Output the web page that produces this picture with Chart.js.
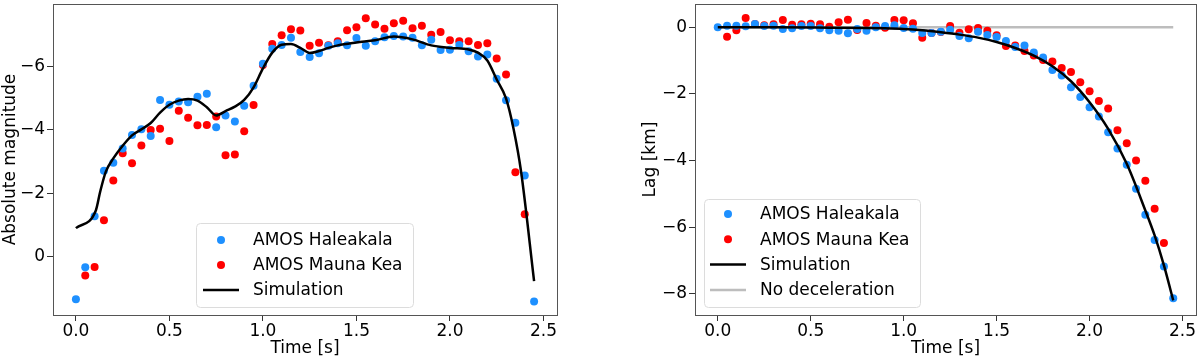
<!DOCTYPE html>
<html>
<head>
<meta charset="utf-8">
<script src="https://cdn.jsdelivr.net/npm/chart.js@4.4.1/dist/chart.umd.min.js"></script>
<style>
    html, body { margin: 0; padding: 0; background: #fff; }
    .panel { position: absolute; top: 0; width: 600px; height: 359px; }
    #leftPanel { left: 0; }
    #rightPanel { left: 600px; }
</style>
</head>
<body>
<div class="panel" id="leftPanel"><canvas id="magChart" width="600" height="359"></canvas></div>
<div class="panel" id="rightPanel"><canvas id="lagChart" width="600" height="359"></canvas></div>
<script>
// 观测时间 (s)
const timeHal = [0.00, 0.05, 0.10, 0.15, 0.20, 0.25, 0.30, 0.35, 0.40, 0.45,
    0.50, 0.55, 0.60, 0.65, 0.70, 0.75, 0.80, 0.85, 0.90, 0.95,
    1.00, 1.05, 1.10, 1.15, 1.20, 1.25, 1.30, 1.35, 1.40, 1.45,
    1.50, 1.55, 1.60, 1.65, 1.70, 1.75, 1.80, 1.85, 1.90, 1.95,
    2.00, 2.05, 2.10, 2.15, 2.20, 2.25, 2.30, 2.35, 2.40, 2.45];
const timeMK = [0.05, 0.10, 0.15, 0.20, 0.25, 0.30, 0.35, 0.40, 0.45,
    0.50, 0.55, 0.60, 0.65, 0.70, 0.75, 0.80, 0.85, 0.90, 0.95,
    1.00, 1.05, 1.10, 1.15, 1.20, 1.25, 1.30, 1.35, 1.40, 1.45,
    1.50, 1.55, 1.60, 1.65, 1.70, 1.75, 1.80, 1.85, 1.90, 1.95,
    2.00, 2.05, 2.10, 2.15, 2.20, 2.25, 2.30, 2.35, 2.40];

// 绝对星等
const magHal = [1.36, 0.35, -1.27, -2.71, -2.96, -3.41, -3.84, -4.02, -3.81, -4.95,
    -4.80, -4.90, -4.88, -5.05, -5.15, -4.09, -4.46, -4.27, -4.77, -5.40,
    -6.10, -6.57, -6.69, -6.92, -6.47, -6.31, -6.43, -6.67, -6.75, -6.68,
    -6.91, -6.67, -6.81, -6.94, -6.98, -6.96, -6.92, -6.68, -6.86, -6.53,
    -6.54, -6.69, -6.49, -6.33, -6.39, -5.62, -4.94, -4.23, -2.56, 1.43];
const magMK = [0.61, 0.34, -1.14, -2.40, -3.26, -2.95, -3.51, -4.00, -4.04,
    -3.65, -4.61, -4.39, -4.15, -4.16, -4.43, -3.20, -3.22, -3.96, -4.79,
    -6.06, -6.72, -7.00, -7.19, -7.15, -6.67, -6.76, -6.68, -6.81, -7.16,
    -7.25, -7.54, -7.34, -7.21, -7.38, -7.46, -7.22, -7.30, -7.02, -7.10,
    -6.84, -6.81, -6.81, -6.69, -6.75, -6.26, -5.76, -2.66, -1.33];
const simMagTime = [0.00, 0.107, 0.13, 0.16, 0.20, 0.25, 0.30, 0.35, 0.40, 0.45,
    0.50, 0.55, 0.60, 0.65, 0.70, 0.75, 0.80, 0.85, 0.90, 0.95,
    1.00, 1.05, 1.10, 1.15, 1.20, 1.25, 1.30, 1.35, 1.40, 1.50,
    1.60, 1.70, 1.80, 1.90, 2.00, 2.10, 2.15, 2.20, 2.25, 2.30,
    2.34, 2.38, 2.45];
const simMag = [-0.89, -1.46, -2.05, -2.68, -3.10, -3.50, -3.83, -4.02, -4.22, -4.55,
    -4.80, -4.93, -4.98, -4.93, -4.72, -4.46, -4.60, -4.74, -4.95, -5.35,
    -5.95, -6.45, -6.70, -6.72, -6.60, -6.44, -6.50, -6.60, -6.68, -6.77,
    -6.84, -6.96, -6.87, -6.68, -6.60, -6.55, -6.45, -6.20, -5.60, -5.00,
    -4.04, -2.70, 0.79];

// 滞后 (km)
const lagHal = [0.00, 0.05, 0.05, 0.03, 0.10, 0.04, 0.05, -0.05, -0.03, 0.04,
    0.04, -0.03, -0.09, -0.10, -0.18, -0.05, -0.10, 0.00, 0.04, 0.06,
    -0.02, -0.04, -0.17, -0.17, -0.13, -0.07, -0.26, -0.33, -0.13, -0.23,
    -0.29, -0.41, -0.59, -0.55, -0.76, -0.91, -1.28, -1.45, -1.80, -2.09,
    -2.40, -2.68, -3.15, -3.64, -4.13, -4.85, -5.63, -6.39, -7.18, -8.14];
const lagMK = [-0.28, -0.09, 0.28, 0.10, 0.06, 0.09, 0.22, 0.08, 0.09,
    0.11, 0.09, 0.02, 0.15, 0.23, -0.08, 0.13, 0.05, -0.01, 0.22,
    0.21, 0.12, -0.31, -0.17, -0.14, 0.04, -0.16, -0.06, -0.02, -0.10,
    -0.24, -0.56, -0.55, -0.71, -0.85, -0.98, -1.03, -1.22, -1.34, -1.65,
    -1.92, -2.21, -2.44, -3.09, -3.48, -4.00, -4.61, -5.45, -6.48];
const simLagTime = [0.00, 0.30, 0.60, 0.80, 0.90, 1.00, 1.10, 1.20, 1.30, 1.40,
    1.50, 1.60, 1.70, 1.80, 1.90, 2.00, 2.10, 2.20, 2.30, 2.35, 2.40, 2.45];
const simLag = [0.00, 0.00, -0.01, -0.02, -0.03, -0.05, -0.09, -0.15, -0.22, -0.31,
    -0.44, -0.62, -0.85, -1.17, -1.62, -2.25, -3.05, -4.10, -5.50, -6.25, -7.15, -8.20];
const noDecelTime = [0.00, 2.45];
const noDecelLag = [0.00, 0.00];

// 刻度
const timeTicks = [0, 0.5, 1.0, 1.5, 2.0, 2.5];
const magTicks = [-6, -4, -2, 0];
const lagTicks = [0, -2, -4, -6, -8];

const BLUE = '#1e90ff';
const RED = '#ff0000';
const FONT = "'DejaVu Sans', sans-serif";

Chart.defaults.font.family = FONT;
Chart.defaults.font.size = 17;
Chart.defaults.color = '#000';

function toPoints(xs, ys) {
    return xs.map((x, i) => ({ x: x, y: ys[i] }));
}

function fmtMinus(v) {
    return v < 0 ? '\u2212' + Math.abs(v) : String(v);
}

// 坐标框
const framePlugin = {
    id: 'frame',
    afterDraw(chart) {
        const { ctx, chartArea: a } = chart;
        ctx.save();
        ctx.strokeStyle = '#555';
        ctx.lineWidth = 1;
        ctx.strokeRect(Math.round(a.left) + 0.5, Math.round(a.top) + 0.5,
            Math.round(a.right - a.left), Math.round(a.bottom - a.top));
        ctx.restore();
    }
};

// 图内图例
const insideLegend = {
    id: 'insideLegend',
    afterDraw(chart, args, opts) {
        const ctx = chart.ctx;
        ctx.save();
        ctx.beginPath();
        ctx.roundRect(opts.x + 0.5, opts.y + 0.5, opts.w, opts.h, 4);
        ctx.fillStyle = 'rgba(255,255,255,0.85)';
        ctx.fill();
        ctx.strokeStyle = '#dcdcdc';
        ctx.lineWidth = 1;
        ctx.stroke();

        ctx.font = '17px ' + FONT;
        ctx.textBaseline = 'middle';
        chart.data.datasets.forEach(ds => {
            const cy = opts.firstRow + ds.legendRank * opts.rowGap;
            if (ds.showLine) {
                ctx.beginPath();
                ctx.strokeStyle = ds.borderColor;
                ctx.lineWidth = ds.borderWidth;
                ctx.moveTo(opts.markX - 18, cy);
                ctx.lineTo(opts.markX + 18, cy);
                ctx.stroke();
            } else {
                ctx.beginPath();
                ctx.fillStyle = ds.backgroundColor;
                ctx.arc(opts.markX, cy, 4, 0, Math.PI * 2);
                ctx.fill();
            }
            ctx.fillStyle = '#000';
            ctx.fillText(ds.label, opts.textX, cy + 1);
        });
        ctx.restore();
    }
};

function xAxis() {
    return {
        type: 'linear',
        min: -0.1225,
        max: 2.5725,
        title: { display: true, text: 'Time [s]', padding: { top: 0, bottom: 0 } },
        grid: { drawOnChartArea: false, drawTicks: true, tickLength: 6, color: '#333' },
        border: { display: false },
        ticks: { padding: 0, callback: v => v.toFixed(1) },
        afterBuildTicks: s => { s.ticks = timeTicks.map(v => ({ value: v })); },
        afterFit: s => { s.height = 44; s.paddingLeft = 0; s.paddingRight = 0; }
    };
}

function yAxis(title, ticks, min, max, reverse, width) {
    return {
        type: 'linear',
        min: min,
        max: max,
        reverse: reverse,
        title: { display: true, text: title, padding: { top: 0, bottom: 0 } },
        grid: { drawOnChartArea: false, drawTicks: true, tickLength: 6, color: '#333' },
        border: { display: false },
        ticks: { padding: 2, callback: v => fmtMinus(v) },
        afterBuildTicks: s => { s.ticks = ticks.map(v => ({ value: v })); },
        afterFit: s => { s.width = width; s.paddingTop = 0; s.paddingBottom = 0; }
    };
}

function scatterSet(label, xs, ys, color, order, rank) {
    return {
        label: label,
        data: toPoints(xs, ys),
        backgroundColor: color,
        borderColor: color,
        borderWidth: 0,
        pointRadius: 4,
        pointHoverRadius: 4,
        showLine: false,
        order: order,
        legendRank: rank
    };
}

function lineSet(label, xs, ys, color, width, order, rank) {
    return {
        label: label,
        data: toPoints(xs, ys),
        borderColor: color,
        backgroundColor: color,
        borderWidth: width,
        pointRadius: 0,
        showLine: true,
        cubicInterpolationMode: 'monotone',
        order: order,
        legendRank: rank
    };
}

const baseOptions = {
    responsive: false,
    animation: false,
    devicePixelRatio: 1,
    plugins: { legend: { display: false }, tooltip: { enabled: false } }
};

// 左图: 绝对星等
new Chart(document.getElementById('magChart').getContext('2d'), {
    type: 'scatter',
    data: {
        datasets: [
            lineSet('Simulation', simMagTime, simMag, '#000', 2.5, 0, 2),
            scatterSet('AMOS Haleakala', timeHal, magHal, BLUE, 1, 0),
            scatterSet('AMOS Mauna Kea', timeMK, magMK, RED, 2, 1)
        ]
    },
    options: Object.assign({}, baseOptions, {
        layout: { padding: { left: 0, right: 43, top: 1, bottom: 0 } },
        scales: {
            x: xAxis(),
            y: yAxis('Absolute magnitude', magTicks, -7.99, 1.86, true, 53)
        },
        plugins: Object.assign({}, baseOptions.plugins, {
            insideLegend: { x: 196, y: 223, w: 217, h: 84, markX: 221, textX: 253, firstRow: 240, rowGap: 25 }
        })
    }),
    plugins: [framePlugin, insideLegend]
});

// 右图: 滞后
new Chart(document.getElementById('lagChart').getContext('2d'), {
    type: 'scatter',
    data: {
        datasets: [
            lineSet('Simulation', simLagTime, simLag, '#000', 2.5, 0, 2),
            scatterSet('AMOS Haleakala', timeHal, lagHal, BLUE, 1, 0),
            scatterSet('AMOS Mauna Kea', timeMK, lagMK, RED, 2, 1),
            lineSet('No deceleration', noDecelTime, noDecelLag, '#bdbdbd', 2.5, 3, 3)
        ]
    },
    options: Object.assign({}, baseOptions, {
        layout: { padding: { left: 40, right: 2, top: 1, bottom: 0 } },
        scales: {
            x: xAxis(),
            y: yAxis('Lag [km]', lagTicks, -8.64, 0.70, false, 55)
        },
        plugins: Object.assign({}, baseOptions.plugins, {
            insideLegend: { x: 104, y: 199, w: 216, h: 108, markX: 128, textX: 160, firstRow: 214, rowGap: 25.3 }
        })
    }),
    plugins: [framePlugin, insideLegend]
});
</script>
</body>
</html>
